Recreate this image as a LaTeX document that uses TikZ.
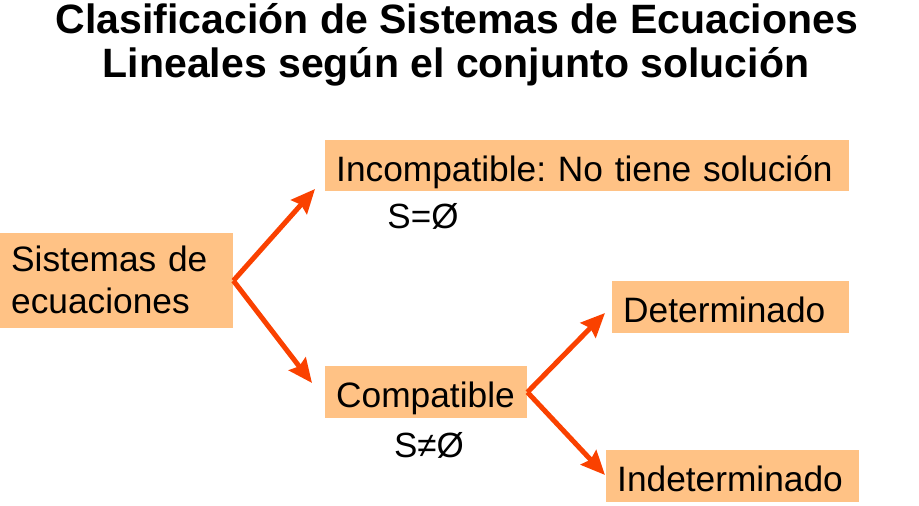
\documentclass[tikz,border=0pt]{standalone}
\usepackage{fontspec}
\setmainfont{Liberation Sans}
\usetikzlibrary{arrows.meta}
\definecolor{boxfill}{HTML}{FFC285}
\definecolor{arrowc}{HTML}{FA4100}
\frenchspacing
\begin{document}
\begin{tikzpicture}[x=1pt,y=-1pt,
  box/.style={fill=boxfill, anchor=north west, inner xsep=11pt, inner ysep=0pt,
    align=left, text height=31pt, text depth=0pt, font=\fontsize{35.3}{42}\selectfont},
  plain/.style={inner sep=0pt, font=\fontsize{35}{41}\selectfont, anchor=base},
  ttl/.style={inner sep=0pt, font=\fontsize{41}{44}\selectfont\bfseries, anchor=base},
  arr/.style={draw=arrowc, line width=5pt, -{Stealth[length=24pt,width=21pt,inset=3pt]}}]
\useasboundingbox (0,0) rectangle (919,506);
\node[ttl] (t1) at (457,33) {Clasificación de Sistemas de Ecuaciones};
\node[ttl] (t2) at (456,77) {Lineales según el conjunto solución};

\node[box, minimum width=233pt, minimum height=95pt, text width=211pt, text height=31pt, text depth=49pt] (sis) at (0,233)
  {Sistemas de\\ecuaciones};
\node[box, minimum width=524pt, minimum height=51pt, text width=502pt] (inc) at (325,140)
  {Incompatible: No tiene solución};
\node[box, minimum width=202pt, minimum height=52pt, text width=180pt] (com) at (325,366)
  {Compatible};
\node[box, minimum width=237pt, minimum height=52pt, text width=215pt] (det) at (612,281)
  {Determinado};
\node[box, minimum width=253pt, minimum height=52pt, text width=231pt] (ind) at (606,450)
  {Indeterminado};

\node[plain] (s1) at (423,228) {S=Ø};
\node[plain] (s2) at (429,457) {S≠Ø};

\coordinate (a1) at (315,189);
\coordinate (a2) at (312,383);
\coordinate (a3) at (605,313);
\coordinate (a4) at (605,475);
\draw[arr] (sis.east) -- (a1);
\draw[arr] (sis.east) -- (a2);
\draw[arr] (com.east) -- (a3);
\draw[arr] (com.east) -- (a4);
\end{tikzpicture}
\end{document}
